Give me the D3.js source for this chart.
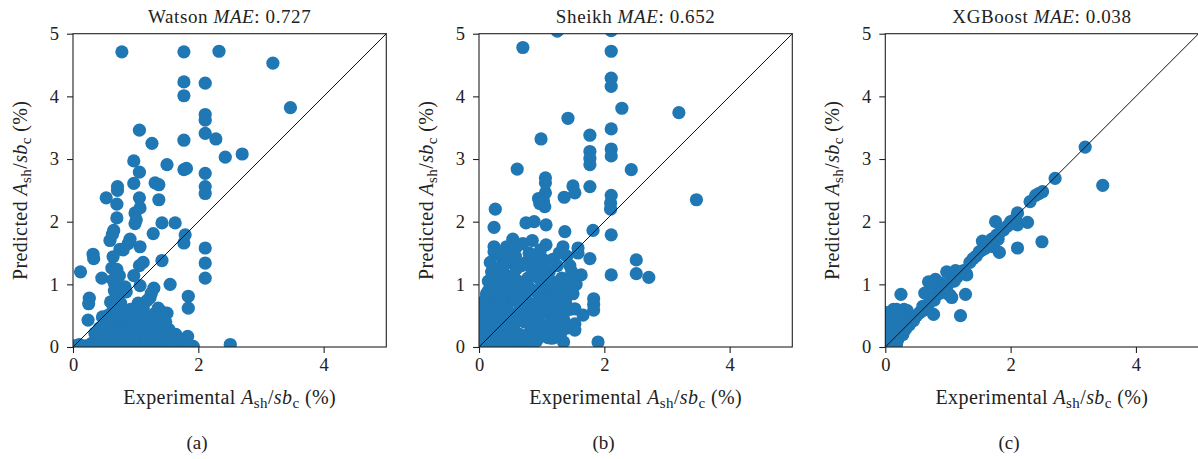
<!DOCTYPE html>
<html>
<head>
<meta charset="utf-8">
<script src="https://cdn.jsdelivr.net/npm/d3@7"></script>
<style>
  html, body { margin: 0; padding: 0; background: #fff; }
  svg { display: block; }
  text { font-family: "Liberation Serif", "DejaVu Serif", serif; fill: #222; }
</style>
</head>
<body>
<svg id="chart" width="1198" height="459"></svg>
<script>
// Model names, their mean absolute errors and sub-figure tags
const modelNames = ["Watson", "Sheikh", "XGBoost"];
const maeValues = ["0.727", "0.652", "0.038"];
const panelTags = ["(a)", "(b)", "(c)"];
const xTickValues = [0, 2, 4];
const yTickValues = [0, 1, 2, 3, 4, 5];

// [experimental, predicted] Ash/sbc (%) pairs for each model
const watsonPoints = [
  [0.78,4.71],[1.77,4.71],[2.33,4.72],[3.19,4.53],[1.77,4.23],[2.11,4.21],[1.77,4.01],[3.47,3.82],
  [2.11,3.71],[2.11,3.62],[2.11,3.41],[2.28,3.32],[1.06,3.46],[1.26,3.25],[1.77,3.30],[2.43,3.03],
  [2.70,3.08],[0.97,2.97],[1.06,2.79],[1.50,2.91],[1.77,2.83],[1.81,2.85],[2.11,2.77],[2.11,2.56],
  [2.11,2.45],[0.71,2.56],[0.71,2.50],[0.97,2.61],[1.31,2.62],[1.37,2.59],[0.53,2.38],[1.06,2.38],
  [1.37,2.35],[0.70,2.28],[1.07,2.22],[0.70,2.06],[0.99,2.14],[1.01,2.03],[0.99,1.97],[1.42,1.98],
  [1.63,1.98],[1.28,1.81],[0.65,1.86],[0.63,1.80],[0.59,1.70],[0.91,1.72],[0.88,1.65],[0.75,1.56],
  [0.80,1.55],[1.07,1.60],[1.79,1.79],[1.77,1.66],[2.11,1.58],[2.11,1.34],[2.11,1.10],[1.42,1.38],
  [1.12,1.35],[1.06,1.30],[0.32,1.48],[0.33,1.41],[0.12,1.20],[0.64,1.44],[0.62,1.26],[0.70,1.24],
  [0.46,1.10],[0.97,1.14],[0.66,1.02],[1.55,1.00],[1.07,0.98],[0.70,0.96],[1.29,0.94],[1.25,0.86],
  [0.26,0.78],[0.25,0.69],[1.84,0.81],[1.84,0.62],[1.23,0.79],[1.18,0.74],[1.04,0.70],[0.24,0.43],
  [0.47,0.48],[1.50,0.54],[1.42,0.56],[1.30,0.53],[1.36,0.62],[0.80,0.59],[0.91,0.46],[0.64,0.48],
  [1.53,0.28],[1.83,0.17],[2.51,0.04],[1.92,0.01],[0.64,1.07],[0.83,0.96],
  [0.03,0.02],[0.10,0.04],[0.20,0.02],[0.30,0.06],[0.38,0.14],[0.45,0.08],[0.50,0.20],[0.52,0.32],
  [0.58,0.15],[0.60,0.38],[0.62,0.05],[0.66,0.28],[0.70,0.45],[0.72,0.12],[0.75,0.30],[0.78,0.02],
  [0.80,0.22],[0.84,0.40],[0.86,0.08],[0.90,0.30],[0.92,0.15],[0.95,0.02],[0.98,0.38],[1.00,0.22],
  [1.02,0.08],[1.06,0.50],[1.08,0.30],[1.10,0.14],[1.14,0.03],[1.16,0.40],[1.20,0.22],[1.24,0.10],
  [1.28,0.32],[1.32,0.04],[1.36,0.18],[1.42,0.08],[1.46,0.30],[1.50,0.12],[1.56,0.03],[1.62,0.06],
  [1.70,0.02],[0.68,0.62],[0.72,0.80],[0.76,0.70],[0.85,0.88],[0.55,0.50],[0.42,0.30],[0.35,0.22],
  [0.92,0.60],[1.12,0.62],[0.66,0.90],[0.74,1.14],
  [0.40,0.05],[0.48,0.35],[0.55,0.10],[0.62,0.22],[0.68,0.10],[0.74,0.42],[0.78,0.55],[0.82,0.12],
  [0.88,0.22],[0.94,0.36],[0.98,0.10],[1.04,0.30],[1.10,0.42],[1.12,0.24],[1.18,0.10],[1.22,0.38],
  [1.26,0.22],[1.30,0.12],[1.34,0.30],[1.38,0.42],[1.40,0.22],[1.44,0.14],[1.48,0.40],[1.52,0.18],
  [1.58,0.10],[1.64,0.20],[1.66,0.08],[1.74,0.10],[1.78,0.04],[1.86,0.02],[0.58,0.48],[0.64,0.60],
  [0.60,0.72],[0.86,0.50],[1.02,0.62],[1.14,0.52],[0.50,0.02],[0.70,0.22],[0.30,0.02],[0.36,0.04]
];

const sheikhPoints = [
  [1.25,5.04],[2.11,5.05],[0.70,4.78],[2.11,4.72],[2.11,4.29],[2.11,4.16],[2.28,3.81],[3.19,3.74],
  [1.42,3.65],[0.99,3.32],[1.77,3.38],[2.11,3.48],[1.77,3.12],[1.77,3.01],[1.77,2.91],[2.11,3.16],
  [2.11,3.05],[2.43,2.83],[0.61,2.84],[1.06,2.70],[1.06,2.62],[1.50,2.57],[1.53,2.46],[1.77,2.56],
  [1.06,2.46],[0.95,2.37],[1.36,2.39],[2.11,2.42],[3.47,2.35],[2.10,2.30],[2.10,2.20],[2.11,1.79],
  [1.82,1.86],[1.77,1.41],[2.11,1.15],[2.51,1.39],[2.51,1.17],[2.71,1.11],[0.26,2.20],[0.24,1.91],
  [0.24,1.60],[0.24,1.52],[1.37,1.84],[1.03,2.33],[1.05,2.24],[0.97,2.29],[0.75,1.98],[0.88,2.00],
  [1.07,1.95],[0.54,1.72],[1.34,1.60],[1.58,1.58],[1.07,1.63],[0.91,1.42],[1.63,1.15],[1.55,1.00],
  [1.83,0.77],[1.83,0.68],[1.83,0.59],[1.53,0.61],[1.66,0.51],[1.53,0.37],[1.53,0.27],[1.90,0.08],
  [1.35,0.08],[1.16,0.14],[1.29,0.35],[1.32,0.86],[0.44,1.60],[0.34,1.28],
  [0.02,0.05],[0.05,0.30],[0.08,0.15],[0.10,0.45],[0.12,0.60],[0.15,0.25],[0.18,0.80],[0.20,0.10],
  [0.22,0.95],[0.25,0.50],[0.28,0.70],[0.30,1.10],[0.32,0.30],[0.35,0.90],[0.38,1.20],[0.40,0.60],
  [0.42,0.15],[0.45,1.00],[0.48,1.35],[0.50,0.40],[0.52,0.75],[0.55,1.15],[0.58,1.45],[0.60,0.20],
  [0.62,0.55],[0.65,0.95],[0.68,1.30],[0.70,0.05],[0.72,0.40],[0.75,0.75],[0.78,1.10],[0.80,1.50],
  [0.82,0.25],[0.85,0.60],[0.88,0.90],[0.90,1.25],[0.92,0.10],[0.95,0.45],[0.98,0.75],[1.00,1.05],
  [1.02,1.40],[1.05,0.30],[1.08,0.60],[1.10,0.90],[1.12,1.20],[1.15,0.50],[1.18,0.75],[1.20,1.00],
  [1.22,0.25],[1.25,1.30],[1.28,0.55],[1.30,0.85],[1.32,1.10],[1.35,0.45],[1.38,0.70],[1.40,1.45],
  [1.42,0.95],[1.45,0.60],[1.48,1.20],[1.50,0.85],[0.15,1.05],[0.20,1.20],[0.12,0.85],[0.35,1.45],
  [0.60,1.60],[0.70,1.65],[0.85,1.70],[0.25,0.30],[0.40,0.05],[0.55,0.05],[0.30,0.45],[0.65,0.20],
  [1.10,0.15],[0.95,0.20],[1.20,0.60],[0.06,0.48],[0.04,0.70],[0.18,1.35],[0.48,0.22],[0.85,0.02],
  [0.05,0.10],[0.10,0.25],[0.15,0.40],[0.20,0.55],[0.25,0.70],[0.30,0.85],[0.35,1.00],[0.40,0.80],
  [0.45,0.65],[0.50,0.90],[0.55,0.30],[0.60,0.75],[0.65,0.50],[0.70,0.85],[0.75,0.15],[0.80,0.55],
  [0.85,0.35],[0.90,0.70],[0.95,0.90],[1.00,0.55],[1.05,0.75],[1.10,0.35],[1.15,0.95],[1.20,0.40],
  [1.25,0.70],[1.30,0.20],[1.35,1.00],[1.40,0.30],[0.05,0.60],[0.10,0.75],[0.15,0.90],[0.20,0.35],
  [0.25,1.05],[0.30,0.20],[0.35,0.55],[0.40,1.30],[0.45,0.35],[0.50,1.10],[0.55,0.85],[0.60,1.25],
  [0.65,0.70],[0.70,1.00],[0.75,1.35],[0.80,0.95],[0.85,1.20],[0.90,0.45],[0.95,1.10],[1.00,0.30],
  [1.05,1.25],[1.10,0.70],[1.15,1.05],[1.20,0.15],[1.25,0.85],[1.30,0.45],[1.40,0.80],[1.45,1.10],
  [0.10,0.05],[0.20,0.05],[0.30,0.08],[0.50,0.10],[0.60,0.45],[0.72,0.60],[0.82,0.45],[0.92,0.30],
  [1.02,0.20],[0.15,0.65],[0.35,0.75],[0.45,0.50],[0.28,0.95],[0.62,1.05],[0.85,1.45],[0.55,1.55],
  [0.42,1.50],[1.18,1.40],[0.98,1.55],[1.28,1.50],[1.58,1.50],[1.45,1.30],[0.02,0.22],[0.02,0.40]
];

const xgboostPoints = [
  [3.19,3.19],[3.47,2.58],[2.71,2.69],[2.51,2.48],[2.45,2.45],[2.40,2.42],[2.31,2.32],[2.50,1.68],
  [2.11,1.58],[2.27,1.99],[2.11,2.14],[2.11,1.95],[2.08,2.05],[1.76,2.00],[1.89,1.87],[1.82,1.51],
  [1.55,1.69],[1.78,1.79],[1.73,1.60],[1.68,1.62],[1.62,1.62],[1.50,1.52],[1.45,1.45],[1.40,1.41],
  [1.35,1.35],[1.29,1.17],[1.28,0.84],[1.20,0.50],[0.77,0.52],[1.06,0.79],[1.03,0.83],[0.98,1.20],
  [1.05,1.15],[1.12,1.22],[1.30,1.15],[0.69,1.04],[0.80,1.08],[0.75,1.00],[0.88,1.02],[0.92,0.95],
  [0.85,0.85],[0.80,0.82],[0.72,0.78],[0.63,0.86],[0.60,0.65],[0.55,0.55],[0.50,0.50],[0.45,0.48],
  [0.40,0.45],[0.35,0.58],[0.30,0.60],[0.25,0.84],[0.25,0.55],[0.20,0.45],[0.15,0.55],[0.13,0.60],
  [0.10,0.42],[0.08,0.35],[0.05,0.30],[0.03,0.20],[0.02,0.10],[0.05,0.05],[0.10,0.15],[0.15,0.20],
  [0.20,0.25],[0.25,0.30],[0.30,0.32],[0.35,0.38],[0.10,0.05],[0.15,0.10],[0.20,0.12],[0.28,0.20],
  [0.38,0.35],[0.95,0.90],[1.00,1.00],[1.15,1.12],[1.25,1.22],[1.55,1.55],[1.60,1.58],[1.70,1.72],
  [1.75,1.75],[1.85,1.85],[1.95,1.93],[2.00,2.00],[1.20,1.20],[1.10,1.05],[0.90,0.88],[1.00,0.85],
  [0.65,0.62],[0.70,0.70],[0.78,0.75],[0.18,0.38],[0.13,0.30],[0.07,0.22],[0.02,0.40],[0.04,0.50],
  [0.08,0.52],[0.18,0.05],[0.60,0.58],[1.65,1.68],[1.80,1.72],
  [0.02,0.30],[0.06,0.45],[0.10,0.30],[0.12,0.20],[0.16,0.45],[0.22,0.35],[0.26,0.42],[0.32,0.45],
  [0.28,0.50],[0.22,0.55],[0.18,0.60],[0.05,0.15],[0.08,0.08],[0.12,0.12],[0.40,0.40],[0.45,0.42],
  [0.32,0.28],[0.03,0.55]
];

const datasets = [watsonPoints, sheikhPoints, xgboostPoints];

const svg = d3.select("#chart");
const dotColor = "#1f77b4";
const plotLefts = [73, 479, 885.3];
const plotTop = 33.7;
const plotSize = 313.3;
const tagCenters = [197, 603.5, 1009];

datasets.forEach((points, i) => {
  const left = plotLefts[i];
  const x = d3.scaleLinear().domain([0, 5]).range([left, left + plotSize]);
  const y = d3.scaleLinear().domain([0, 5]).range([plotTop + plotSize, plotTop]);

  const g = svg.append("g");

  const clipId = "plot-clip-" + i;
  g.append("clipPath").attr("id", clipId)
    .append("rect")
    .attr("x", left).attr("y", plotTop)
    .attr("width", plotSize).attr("height", plotSize);

  // scatter points
  g.append("g").attr("clip-path", `url(#${clipId})`)
    .selectAll("circle")
    .data(points)
    .join("circle")
    .attr("cx", d => x(d[0]))
    .attr("cy", d => y(d[1]))
    .attr("r", 6.6)
    .attr("fill", dotColor);

  // identity line
  g.append("line")
    .attr("x1", x(0)).attr("y1", y(0))
    .attr("x2", x(5)).attr("y2", y(5))
    .attr("stroke", "#111").attr("stroke-width", 1);

  // axes
  const xAxis = d3.axisBottom(x).tickValues(xTickValues).tickSize(6).tickPadding(5).tickFormat(d3.format("d"));
  const yAxis = d3.axisLeft(y).tickValues(yTickValues).tickSize(6).tickPadding(8).tickFormat(d3.format("d"));

  const gx = g.append("g").attr("transform", `translate(0,${plotTop + plotSize})`).call(xAxis);
  const gy = g.append("g").attr("transform", `translate(${left},0)`).call(yAxis);
  [gx, gy].forEach(a => {
    a.attr("font-family", null).attr("font-size", null);
    a.select(".domain").remove();
    a.selectAll(".tick line").attr("stroke", "#222").attr("stroke-width", 1.1);
    a.selectAll(".tick text").attr("font-size", 18.5).attr("fill", "#222");
  });

  // frame
  g.append("rect")
    .attr("x", left).attr("y", plotTop)
    .attr("width", plotSize).attr("height", plotSize)
    .attr("fill", "none").attr("stroke", "#222").attr("stroke-width", 1.1);

  // title
  const title = g.append("text")
    .attr("x", left + plotSize / 2).attr("y", 23)
    .attr("text-anchor", "middle").attr("font-size", 19)
    .attr("letter-spacing", 0.6);
  title.append("tspan").text(modelNames[i] + " ");
  title.append("tspan").attr("font-style", "italic").text("MAE");
  title.append("tspan").text(": " + maeValues[i]);

  // axis label builder: "<prefix> A_sh/sb_c (%)"
  function axisLabel(sel, prefix) {
    sel.append("tspan").text(prefix + " ");
    sel.append("tspan").attr("font-style", "italic").text("A");
    sel.append("tspan").attr("font-size", 15).attr("dy", 4).text("sh");
    sel.append("tspan").attr("dy", -4).text("/");
    sel.append("tspan").attr("font-style", "italic").text("sb");
    sel.append("tspan").attr("font-size", 15).attr("dy", 4).text("c");
    sel.append("tspan").attr("dy", -4).text(" (%)");
  }

  const xl = g.append("text")
    .attr("x", left + plotSize / 2).attr("y", 404)
    .attr("text-anchor", "middle").attr("font-size", 20)
    .attr("letter-spacing", 0.4);
  axisLabel(xl, "Experimental");

  const yl = g.append("text")
    .attr("transform", `translate(${left - 46},${plotTop + plotSize / 2}) rotate(-90)`)
    .attr("text-anchor", "middle").attr("font-size", 20)
    .attr("letter-spacing", 0.4);
  axisLabel(yl, "Predicted");

  g.append("text")
    .attr("x", tagCenters[i]).attr("y", 449)
    .attr("text-anchor", "middle").attr("font-size", 19)
    .text(panelTags[i]);
});
</script>
</body>
</html>
